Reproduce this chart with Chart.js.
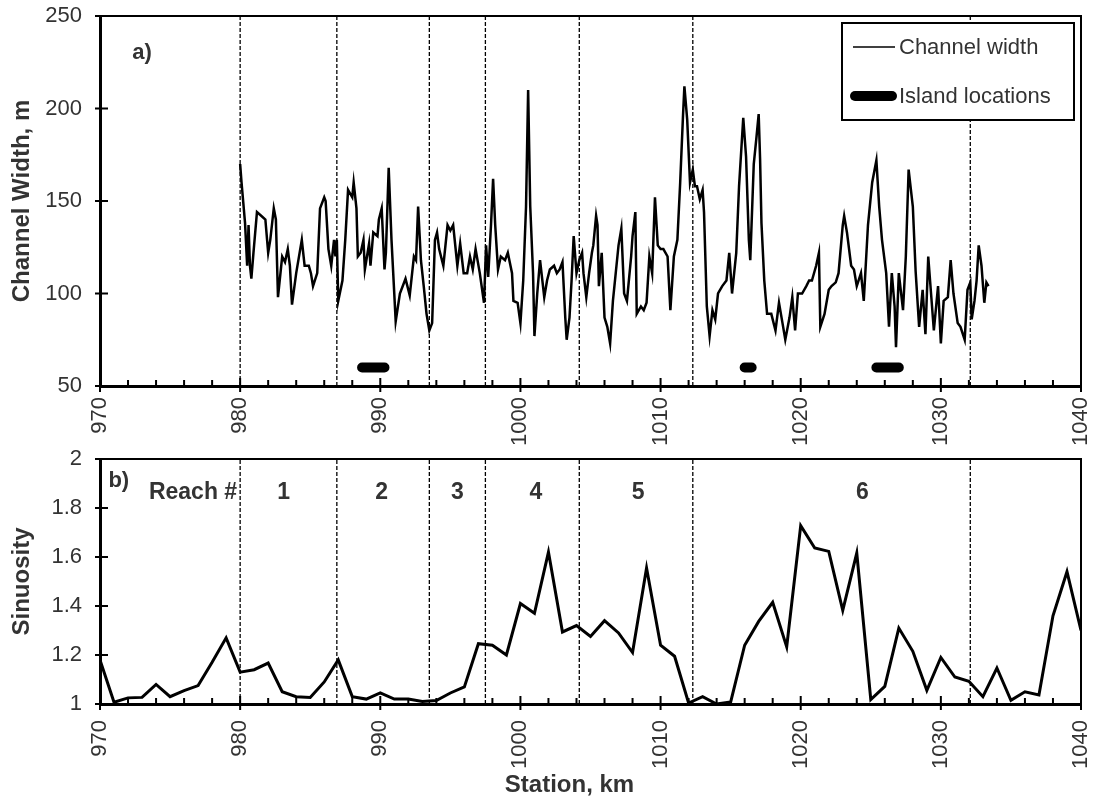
<!DOCTYPE html>
<html>
<head>
<meta charset="utf-8">
<script src="https://cdn.jsdelivr.net/npm/chart.js@4.4.1/dist/chart.umd.min.js"></script>
<style>
html, body { margin: 0; padding: 0; background: #fff; }
#wrap { position: relative; width: 1104px; height: 803px; overflow: hidden; }
#topChart { position: absolute; left: 0; top: 0; }
#botChart { position: absolute; left: 0; top: 430px; }
</style>
</head>
<body>
<div id="wrap">
  <canvas id="topChart" width="1104" height="450"></canvas>
  <canvas id="botChart" width="1104" height="373"></canvas>
</div>
<script>
// channel width along the river (km station, width in m)
var widthKm = [
  980.0, 980.1, 980.35, 980.5, 980.6, 980.7, 980.8, 980.95, 981.2, 981.5,
  981.8, 982.0, 982.15, 982.4, 982.55, 982.7, 983.0, 983.2, 983.4, 983.55,
  983.7, 984.0, 984.4, 984.6, 984.9, 985.05, 985.2, 985.5, 985.7, 986.0,
  986.1, 986.3, 986.5, 986.7, 986.8, 986.9, 987.0, 987.3, 987.5, 987.7,
  988.0, 988.1, 988.3, 988.4, 988.6, 988.8, 988.9, 989.2, 989.3, 989.5,
  989.8, 989.9, 990.1, 990.3, 990.4, 990.6, 990.8, 991.1, 991.4, 991.8,
  992.1, 992.4, 992.55, 992.7, 992.9, 993.1, 993.3, 993.5, 993.7, 993.9,
  994.05, 994.2, 994.5, 994.8, 995.0, 995.2, 995.5, 995.7, 995.95, 996.2,
  996.4, 996.6, 996.8, 997.1, 997.4, 997.55, 997.7, 997.9, 998.05, 998.2,
  998.4, 998.6, 998.9, 999.1, 999.4, 999.5, 999.8, 1000.0, 1000.2, 1000.4,
  1000.55, 1000.7, 1000.9, 1001.0, 1001.2, 1001.4, 1001.7, 1001.9, 1002.1, 1002.4,
  1002.6, 1002.8, 1003.0, 1003.2, 1003.3, 1003.5, 1003.65, 1003.8, 1004.0, 1004.2,
  1004.4, 1004.5, 1004.7, 1004.9, 1005.1, 1005.2, 1005.4, 1005.5, 1005.6, 1005.8,
  1006.0, 1006.2, 1006.4, 1006.6, 1006.8, 1007.0, 1007.2, 1007.4, 1007.6, 1007.9,
  1008.0, 1008.2, 1008.3, 1008.6, 1008.8, 1009.0, 1009.2, 1009.4, 1009.6, 1009.8,
  1010.0, 1010.2, 1010.5, 1010.7, 1010.95, 1011.2, 1011.4, 1011.6, 1011.7, 1011.9,
  1012.1, 1012.3, 1012.45, 1012.6, 1012.8, 1013.0, 1013.1, 1013.3, 1013.5, 1013.7,
  1013.9, 1014.1, 1014.4, 1014.7, 1014.9, 1015.1, 1015.4, 1015.6, 1015.9, 1016.1,
  1016.3, 1016.4, 1016.65, 1016.85, 1017.0, 1017.1, 1017.2, 1017.4, 1017.6, 1017.9,
  1018.2, 1018.45, 1018.7, 1018.9, 1019.2, 1019.4, 1019.6, 1019.8, 1020.1, 1020.4,
  1020.6, 1020.8, 1021.1, 1021.3, 1021.4, 1021.7, 1022.0, 1022.2, 1022.5, 1022.7,
  1023.0, 1023.1, 1023.3, 1023.6, 1023.8, 1024.0, 1024.3, 1024.5, 1024.8, 1025.1,
  1025.4, 1025.6, 1025.8, 1026.1, 1026.3, 1026.5, 1026.7, 1026.8, 1027.0, 1027.3,
  1027.5, 1027.7, 1028.0, 1028.2, 1028.45, 1028.7, 1028.9, 1029.1, 1029.3, 1029.5,
  1029.8, 1030.0, 1030.2, 1030.5, 1030.7, 1030.9, 1031.2, 1031.4, 1031.7, 1031.9,
  1032.1, 1032.2, 1032.4, 1032.55, 1032.7, 1032.9, 1033.1, 1033.25, 1033.4
];
var widthVal = [
  170, 160, 138, 115, 137, 115, 108, 122, 144, 142,
  140, 122, 129, 146, 140, 98, 120, 117, 124, 115,
  94, 111, 129, 115, 115, 111, 104, 111, 146, 152,
  150, 124, 115, 129, 120, 129, 96, 107, 129, 156,
  152, 160, 146, 120, 122, 129, 113, 127, 115, 133,
  131, 140, 146, 113, 122, 168, 129, 85, 100, 108,
  99, 120, 118, 147, 118, 104, 89, 80, 84, 129,
  133, 124, 115, 137, 134, 137, 115, 127, 111, 111,
  120, 113, 124, 111, 95, 126, 109, 137, 162, 137,
  113, 120, 118, 122, 111, 96, 95, 84, 107, 147,
  210, 147, 111, 77, 100, 118, 98, 107, 113, 115,
  111, 113, 117, 87, 75, 87, 107, 131, 111, 118,
  122, 111, 98, 111, 122, 126, 142, 137, 104, 122,
  87, 82, 73, 96, 111, 126, 135, 100, 96, 120,
  131, 144, 89, 93, 91, 95, 120, 111, 152, 126,
  124, 124, 120, 91, 120, 129, 160, 196, 212, 194,
  160, 167, 158, 158, 151, 156, 144, 93, 77, 91,
  86, 100, 104, 107, 122, 100, 122, 158, 195, 174,
  129, 118, 170, 185, 197, 173, 138, 107, 89, 89,
  80, 95, 84, 75, 87, 98, 80, 100, 100, 104,
  107, 107, 115, 122, 82, 89, 102, 104, 106, 111,
  137, 142, 133, 115, 113, 104, 111, 96, 137, 160,
  172, 147, 129, 111, 82, 111, 93, 71, 111, 91,
  120, 167, 147, 112, 82, 102, 78, 120, 100, 80,
  104, 73, 96, 98, 118, 100, 84, 82, 75, 102,
  106, 86, 96, 107, 126, 115, 95, 106, 104
];

// island stretches, drawn as thick bars at 60 m
var islandStart = [988.7, 1016.0, 1025.4];
var islandEnd = [990.3, 1016.5, 1027.0];
var islandLevel = 60;

// sinuosity, one value per km
var sinKm = [
  970, 971, 972, 973, 974, 975, 976, 977, 978, 979,
  980, 981, 982, 983, 984, 985, 986, 987, 988, 989,
  990, 991, 992, 993, 994, 995, 996, 997, 998, 999,
  1000, 1001, 1002, 1003, 1004, 1005, 1006, 1007, 1008, 1009,
  1010, 1011, 1012, 1013, 1014, 1015, 1016, 1017, 1018, 1019,
  1020, 1021, 1022, 1023, 1024, 1025, 1026, 1027, 1028, 1029,
  1030, 1031, 1032, 1033, 1034, 1035, 1036, 1037, 1038, 1039,
  1040
];
var sinVal = [
  1.18, 1.007, 1.025, 1.027, 1.08, 1.03, 1.055, 1.075, 1.17, 1.27,
  1.13, 1.14, 1.167, 1.05, 1.03, 1.027, 1.09, 1.18, 1.03, 1.02,
  1.045, 1.02, 1.02, 1.01, 1.014, 1.045, 1.07, 1.246, 1.24, 1.2,
  1.41, 1.37, 1.62, 1.294, 1.32, 1.276, 1.34, 1.29, 1.21, 1.555,
  1.24, 1.195, 1.004, 1.03, 1.0, 1.008, 1.24, 1.337, 1.415, 1.233,
  1.728, 1.637, 1.623, 1.382, 1.616, 1.018, 1.072, 1.31, 1.215, 1.056,
  1.19, 1.11, 1.093, 1.03, 1.147, 1.015, 1.05, 1.037, 1.36, 1.54,
  1.30
];

// reach boundaries and labels
var reachBounds = [980, 986.9, 993.5, 997.5, 1004.2, 1012.3, 1032.1];
var reachNames = ['1', '2', '3', '4', '5', '6'];
var reachLabelKm = [983.1, 990.1, 995.5, 1001.1, 1008.4, 1024.4];

var xTicks = [970, 980, 990, 1000, 1010, 1020, 1030, 1040];
var widthTicks = [50, 100, 150, 200, 250];
var sinTicks = [1, 1.2, 1.4, 1.6, 1.8, 2];

Chart.defaults.font.family = "'Liberation Sans', Arial, Helvetica, sans-serif";
Chart.defaults.color = '#333';

var textColor = '#333';

function pairs(xa, ya) {
  var out = [];
  for (var i = 0; i < xa.length; i++) out.push({ x: xa[i], y: ya[i] });
  return out;
}

function boundaryLines(lo, hi) {
  var out = [];
  reachBounds.forEach(function(b) {
    out.push({ x: b, y: lo }, { x: b, y: hi }, { x: b, y: null });
  });
  return out;
}

function islandData() {
  var out = [];
  for (var i = 0; i < islandStart.length; i++) {
    out.push({ x: islandStart[i], y: islandLevel }, { x: islandEnd[i], y: islandLevel }, { x: islandEnd[i], y: null });
  }
  return out;
}

// frame on top/right plus tick marks (major cross axis, minor inward)
function drawFrame(chart) {
  var ctx = chart.ctx, a = chart.chartArea, xs = chart.scales.x, ys = chart.scales.y;
  ctx.save();
  ctx.strokeStyle = '#000';
  ctx.lineWidth = 2;
  ctx.beginPath();
  ctx.moveTo(a.left, a.top);
  ctx.lineTo(a.right, a.top);
  ctx.lineTo(a.right, a.bottom + 1);
  ctx.stroke();

  ctx.beginPath();
  ys.ticks.forEach(function(t) {
    var y = ys.getPixelForValue(t.value);
    ctx.moveTo(a.left - 5, y);
    ctx.lineTo(a.left + 8, y);
  });
  for (var v = xs.min; v <= xs.max; v += 2) {
    var x = xs.getPixelForValue(v);
    if (v % 10 === 0) {
      ctx.moveTo(x, a.bottom - 8);
      ctx.lineTo(x, a.bottom + 6);
    } else {
      ctx.moveTo(x, a.bottom - 6);
      ctx.lineTo(x, a.bottom);
    }
  }
  ctx.stroke();
  ctx.restore();
}

var topNotes = {
  id: 'topNotes',
  afterDraw: function(chart) {
    var ctx = chart.ctx, a = chart.chartArea, xs = chart.scales.x, ys = chart.scales.y;
    drawFrame(chart);
    ctx.save();
    ctx.fillStyle = textColor;
    ctx.textBaseline = 'middle';
    ctx.font = "bold 22px 'Liberation Sans', Arial, sans-serif";
    ctx.fillText('a)', xs.getPixelForValue(972.3), ys.getPixelForValue(230));

    // legend box
    var bw = 232, bh = 97;
    var bx = a.right - 7 - bw, by = a.top + 7;
    ctx.fillStyle = '#fff';
    ctx.fillRect(bx, by, bw, bh);
    ctx.strokeStyle = '#000';
    ctx.lineWidth = 2;
    ctx.strokeRect(bx, by, bw, bh);

    ctx.lineCap = 'butt';
    ctx.lineWidth = 1.5;
    ctx.beginPath();
    ctx.moveTo(bx + 11, by + 24);
    ctx.lineTo(bx + 53, by + 24);
    ctx.stroke();

    ctx.lineCap = 'round';
    ctx.lineWidth = 10;
    ctx.beginPath();
    ctx.moveTo(bx + 13, by + 73);
    ctx.lineTo(bx + 50, by + 73);
    ctx.stroke();

    ctx.fillStyle = textColor;
    ctx.font = "22px 'Liberation Sans', Arial, sans-serif";
    ctx.fillText('Channel width', bx + 57, by + 25);
    ctx.fillText('Island locations', bx + 57, by + 74);
    ctx.restore();
  }
};

var botNotes = {
  id: 'botNotes',
  afterDraw: function(chart) {
    var ctx = chart.ctx, a = chart.chartArea, xs = chart.scales.x, ys = chart.scales.y;
    drawFrame(chart);
    ctx.save();
    ctx.fillStyle = textColor;
    ctx.textBaseline = 'middle';
    ctx.font = "bold 22px 'Liberation Sans', Arial, sans-serif";
    ctx.fillText('b)', xs.getPixelForValue(970.6), ys.getPixelForValue(1.91));

    ctx.font = "bold 23px 'Liberation Sans', Arial, sans-serif";
    ctx.textAlign = 'right';
    ctx.fillText('Reach #', xs.getPixelForValue(reachBounds[0]) - 3, ys.getPixelForValue(1.861));
    ctx.textAlign = 'center';
    for (var i = 0; i < reachNames.length; i++) {
      ctx.fillText(reachNames[i], xs.getPixelForValue(reachLabelKm[i]), ys.getPixelForValue(1.861));
    }

    ctx.font = "bold 24px 'Liberation Sans', Arial, sans-serif";
    ctx.fillText('Station, km', (a.left + a.right) / 2 - 21, chart.height - 18);
    ctx.restore();
  }
};

function xScale(pad, h) {
  return {
    type: 'linear', min: 970, max: 1040,
    afterBuildTicks: function(s) { s.ticks = xTicks.map(function(v) { return { value: v }; }); },
    ticks: {
      autoSkip: false, minRotation: 90, maxRotation: 90, padding: pad,
      font: { size: 22 }, color: textColor,
      callback: function(v) { return String(v); }
    },
    grid: { display: false, drawTicks: false },
    border: { display: true, color: '#000', width: 3 },
    afterFit: function(s) { s.height = h; s.paddingLeft = 0; s.paddingRight = 0; }
  };
}

function yScale(min, max, tickVals, title) {
  return {
    type: 'linear', min: min, max: max,
    afterBuildTicks: function(s) { s.ticks = tickVals.map(function(v) { return { value: v }; }); },
    ticks: {
      padding: 18, font: { size: 22 }, color: textColor,
      callback: function(v) { return String(Math.round(v * 10) / 10); }
    },
    grid: { display: false, drawTicks: false },
    border: { display: true, color: '#000', width: 3 },
    title: {
      display: true, text: title, color: textColor,
      font: { size: 24, weight: 'bold' }, padding: { top: 8, bottom: 0 }
    },
    afterFit: function(s) { s.width = 100; s.paddingTop = 0; s.paddingBottom = 0; }
  };
}

new Chart(document.getElementById('topChart'), {
  type: 'line',
  data: {
    datasets: [
      {
        label: 'reach bounds',
        data: boundaryLines(50, 250),
        borderColor: '#000', borderWidth: 1.3, borderDash: [4, 2],
        pointRadius: 0, spanGaps: false
      },
      {
        label: 'Channel width',
        data: pairs(widthKm, widthVal),
        borderColor: '#000', borderWidth: 2.5, pointRadius: 0, tension: 0
      },
      {
        label: 'Island locations',
        data: islandData(),
        borderColor: '#000', borderWidth: 10, borderCapStyle: 'round',
        pointRadius: 0, spanGaps: false
      }
    ]
  },
  options: {
    responsive: false, animation: false, devicePixelRatio: 1,
    layout: { padding: { top: 16, right: 23, left: 0, bottom: 0 } },
    scales: {
      x: xScale(11, 64),
      y: yScale(50, 250, widthTicks, 'Channel Width, m')
    },
    plugins: { legend: { display: false }, tooltip: { enabled: false } }
  },
  plugins: [topNotes]
});

new Chart(document.getElementById('botChart'), {
  type: 'line',
  data: {
    datasets: [
      {
        label: 'reach bounds',
        data: boundaryLines(1, 2),
        borderColor: '#000', borderWidth: 1.3, borderDash: [4, 2],
        pointRadius: 0, spanGaps: false
      },
      {
        label: 'Sinuosity',
        data: pairs(sinKm, sinVal),
        borderColor: '#000', borderWidth: 3, pointRadius: 0, tension: 0
      }
    ]
  },
  options: {
    responsive: false, animation: false, devicePixelRatio: 1,
    layout: { padding: { top: 29, right: 23, left: 0, bottom: 0 } },
    scales: {
      x: xScale(16, 99),
      y: yScale(1, 2, sinTicks, 'Sinuosity')
    },
    plugins: { legend: { display: false }, tooltip: { enabled: false } }
  },
  plugins: [botNotes]
});
</script>
</body>
</html>
